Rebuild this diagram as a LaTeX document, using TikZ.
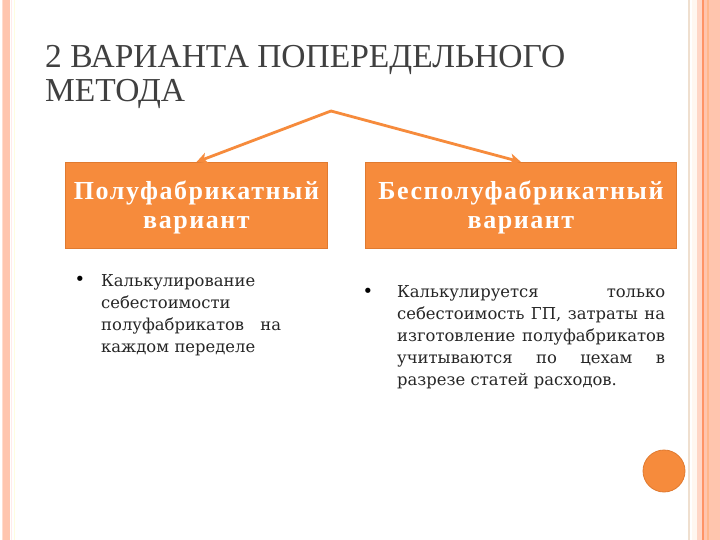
\documentclass[tikz,border=0pt]{standalone}
\usepackage{fontspec}
\setmainfont{Liberation Serif}
\newfontfamily\bodyfont{DejaVu Serif}
\usetikzlibrary{arrows.meta}
\definecolor{orng}{HTML}{F68B3C}
\definecolor{orngdk}{HTML}{E07A30}
\definecolor{salmon}{HTML}{FFC5AE}
\definecolor{titlegray}{HTML}{404040}
\tikzset{
  boxstyle/.style={draw=orngdk, line width=1pt, fill=orng, minimum width=#1, minimum height=86pt, inner sep=0pt},
  boxtext/.style={text=white, font=\fontsize{26}{29}\selectfont\bfseries\addfontfeatures{LetterSpace=6}, align=center},
  titletext/.style={anchor=base west, inner sep=0pt, text=titlegray, font=\fontsize{33.5}{35}\selectfont},
  arr/.style={draw=orng, line width=2.8pt, -{Stealth[length=11pt,width=11pt,inset=3pt]}},
  bodytext/.style={font=\bodyfont\fontsize{16.4}{22}\selectfont, text=black!85, inner sep=0pt, align=left},
  bulletnode/.style={font=\bodyfont\fontsize{18}{22}\selectfont, inner sep=0pt}
}
\begin{document}
\begin{tikzpicture}[x=1pt,y=-1pt]
\useasboundingbox (0,0) rectangle (720,540);
\fill[white] (0,0) rectangle (720,540);
% left stripes
\fill[salmon] (3,0) rectangle (10,540);
\fill[salmon!60] (2,0) rectangle (3,540);
\fill[red!8] (11,0) rectangle (12,540);
\fill[yellow!12] (14,0) rectangle (15,540);
% right stripes
\fill[brown!25] (688,0) rectangle (690,540);
\fill[orange!6] (692,0) rectangle (697,540);
\fill[salmon!70] (697,0) rectangle (702,540);
\fill[orange!60!red!60] (702,0) rectangle (703.5,540);
\fill[salmon] (703.5,0) rectangle (720,540);
\fill[salmon!80!orange] (707,0) rectangle (709,540);
% title
\node[titletext] (title1) at (45,68) {2 ВАРИАНТА ПОПЕРЕДЕЛЬНОГО};
\node[titletext] (title2) at (45,102) {МЕТОДА};
% boxes
\node[boxstyle=262pt, anchor=north west] (box1) at (65,162) {};
\node[boxstyle=311pt, anchor=north west] (box2) at (365,162) {};
\node[boxtext, anchor=base] (b1l1) at (box1.center |- 0,200) {Полуфабрикатный};
\node[boxtext, anchor=base] (b1l2) at (box1.center |- 0,229) {вариант};
\node[boxtext, anchor=base] (b2l1) at (box2.center |- 0,200) {Бесполуфабрикатный};
\node[boxtext, anchor=base] (b2l2) at (box2.center |- 0,229) {вариант};
% arrows
\coordinate (apex) at (331,111);
\draw[arr, line cap=round, line join=round] (apex) -- (box1.north);
\draw[arr, line cap=round, line join=round] (apex) -- (box2.north);
% bullets and text
\node[bulletnode, anchor=base] (bul1) at (80,285) {•};
\node[bodytext, anchor=north west, text width=180pt] (txt1) at (101,274) {%
Калькулирование\\
себестоимости\\
\makebox[180pt]{полуфабрикатов\hfill на}\\
каждом переделе};
\node[bulletnode, anchor=base] (bul2) at (368,297) {•};
\node[bodytext, anchor=north west, text width=268pt] (txt2) at (397,285) {%
\makebox[268pt]{Калькулируется\hfill только}\\
\makebox[268pt]{себестоимость\hfill ГП,\hfill затраты\hfill на}\\
\makebox[268pt]{изготовление\hfill полуфабрикатов}\\
\makebox[268pt]{учитываются\hfill по\hfill цехам\hfill в}\\
разрезе статей расходов.};
% circle
\node[circle, fill=orng, draw=orngdk, line width=0.8pt, minimum size=42pt, inner sep=0pt] (dot) at (664,471) {};
\end{tikzpicture}
\end{document}
